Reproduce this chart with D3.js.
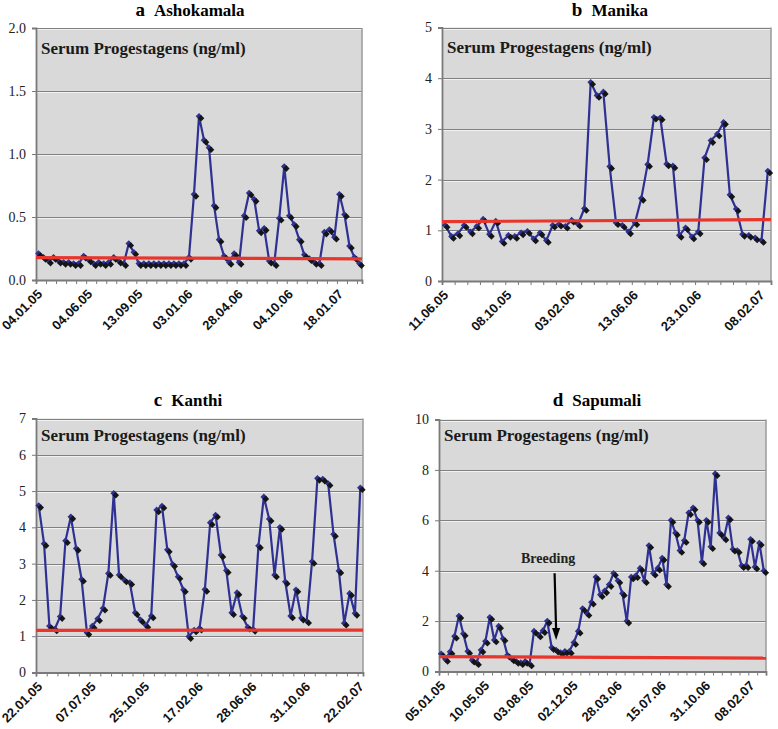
<!DOCTYPE html>
<html>
<head>
<meta charset="utf-8">
<script src="https://cdn.jsdelivr.net/npm/d3@7"></script>
<style>
  body { margin: 0; background: #ffffff; }
  svg { display: block; }
</style>
</head>
<body>
<svg id="chart" width="778" height="729"></svg>
<script>
// ---------------- DATA ----------------
// a  Ashokamala
const ashokamalaValues = [
  0.21, 0.18, 0.15, 0.18, 0.15, 0.14, 0.14, 0.13, 0.13, 0.19,
  0.16, 0.13, 0.14, 0.13, 0.14, 0.18, 0.15, 0.13, 0.29, 0.22,
  0.13, 0.13, 0.13, 0.13, 0.13, 0.13, 0.13, 0.13, 0.13, 0.13,
  0.18, 0.68, 1.30, 1.11, 1.05, 0.59, 0.32, 0.19, 0.14, 0.21,
  0.14, 0.51, 0.69, 0.64, 0.39, 0.41, 0.15, 0.13, 0.49, 0.90,
  0.51, 0.44, 0.32, 0.20, 0.17, 0.14, 0.13, 0.38, 0.40, 0.34,
  0.68, 0.52, 0.27, 0.18, 0.13
];
const ashokamalaDates = ["04.01.05", "04.06.05", "13.09.05", "03.01.06", "28.04.06", "04.10.06", "18.01.07"];
const ashokamalaBaseline = [0.177, 0.168];

// b  Manika
const manikaValues = [
  1.10, 0.88, 0.93, 1.10, 0.97, 1.08, 1.22, 0.92, 1.18, 0.78,
  0.90, 0.88, 0.95, 0.98, 0.83, 0.95, 0.80, 1.10, 1.12, 1.08,
  1.20, 1.12, 1.43, 3.92, 3.66, 3.73, 2.26, 1.15, 1.10, 0.97,
  1.15, 1.63, 2.30, 3.23, 3.22, 2.31, 2.27, 0.90, 1.05, 0.87,
  0.97, 2.43, 2.77, 2.90, 3.13, 1.70, 1.42, 0.92, 0.90, 0.85,
  0.80, 2.17
];
const manikaDates = ["11.06.05", "08.10.05", "03.02.06", "13.06.06", "23.10.06", "08.02.07"];
const manikaBaseline = [1.17, 1.21];

// c  Kanthi
const kanthiValues = [
  4.60, 3.55, 1.28, 1.20, 1.54, 3.63, 4.29, 3.42, 2.57, 1.10,
  1.28, 1.48, 1.77, 2.73, 4.94, 2.69, 2.55, 2.48, 1.65, 1.45,
  1.30, 1.56, 4.48, 4.59, 3.38, 2.98, 2.64, 2.28, 0.99, 1.17,
  1.22, 2.29, 4.13, 4.34, 3.24, 2.81, 1.65, 2.20, 1.55, 1.25,
  1.19, 3.49, 4.84, 4.23, 2.69, 4.00, 2.50, 1.56, 2.28, 1.50,
  1.42, 3.06, 5.35, 5.33, 5.21, 3.81, 2.80, 1.36, 2.18, 1.63,
  5.09
];
const kanthiDates = ["22.01.05", "07.07.05", "25.10.05", "17.02.06", "28.06.06", "31.10.06", "22.02.07"];
const kanthiBaseline = [1.16, 1.17];

// d  Sapumali
const sapumaliValues = [
  0.70, 0.48, 0.78, 1.40, 2.20, 1.50, 0.80, 0.45, 0.35, 0.85,
  1.20, 2.15, 1.25, 1.80, 1.30, 0.65, 0.50, 0.40, 0.35, 0.40,
  0.30, 1.60, 1.45, 1.62, 2.00, 0.95, 0.85, 0.75, 0.80, 0.80,
  1.15, 1.60, 2.50, 2.30, 2.75, 3.75, 3.05, 3.20, 3.45, 3.90,
  3.60, 3.10, 2.00, 3.75, 3.80, 4.10, 3.60, 5.00, 3.90, 4.10,
  4.50, 3.45, 6.00, 5.50, 4.80, 5.20, 6.30, 6.50, 6.00, 4.35,
  6.00, 4.95, 7.85, 5.50, 5.30, 6.10, 4.85, 4.80, 4.20, 4.20,
  5.25, 4.15, 5.10, 4.00
];
const sapumaliDates = ["05.01.05", "10.05.05", "03.08.05", "02.12.05", "28.03.06", "15.07.06", "31.10.06", "08.02.07"];
const sapumaliBaseline = [0.59, 0.53];
// breeding annotation: sample index, arrow tip / tail value, label value
const breedingNote = { text: "Breeding", index: 26, tip: 1.25, tail: 3.9, label: 4.3 };

const panelLetters = ["a", "b", "c", "d"];
const panelNames = ["Ashokamala", "Manika", "Kanthi", "Sapumali"];
const yMaxima = [2, 5, 7, 10];
const ySteps = [0.5, 1, 1, 2];
const yFormats = [".1f", "d", "d", "d"];
const unitText = "Serum Progestagens (ng/ml)";
const labelEvery = 10;   // date label every 10 samples
const tickEvery = 2;     // tick mark every 2 samples

// ---------------- LAYOUT ----------------
const layouts = [
  { l: 36,  r: 362, t: 28,    b: 280,   titleX: 190, titleY: 16,  noteY: 54 },
  { l: 442, r: 771, t: 27.5,  b: 281,   titleX: 610, titleY: 16,  noteY: 53 },
  { l: 36,  r: 363, t: 418.5, b: 672.5, titleX: 188, titleY: 406, noteY: 441 },
  { l: 439, r: 766, t: 419.5, b: 671.5, titleX: 597, titleY: 406, noteY: 441 }
];

const SERIF = "'Liberation Serif', 'Times New Roman', serif";
const SANS = "'Liberation Sans', Arial, sans-serif";
const BLUE = "#2e3192";
const RED = "#e8362c";

const svg = d3.select("#chart");

const panels = [
  { values: ashokamalaValues, dates: ashokamalaDates, baseline: ashokamalaBaseline },
  { values: manikaValues, dates: manikaDates, baseline: manikaBaseline },
  { values: kanthiValues, dates: kanthiDates, baseline: kanthiBaseline },
  { values: sapumaliValues, dates: sapumaliDates, baseline: sapumaliBaseline }
];

panels.forEach((p, k) => {
  const lay = layouts[k];
  const N = p.values.length;
  const g = svg.append("g");

  const x = d3.scaleBand().domain(d3.range(N)).range([lay.l, lay.r]);
  const xi = d3.scaleLinear().domain([0, N]).range([lay.l, lay.r]);
  const y = d3.scaleLinear().domain([0, yMaxima[k]]).range([lay.b, lay.t]);
  const yTicks = d3.range(0, yMaxima[k] + ySteps[k] / 2, ySteps[k]);
  const cx = i => x(i) + x.bandwidth() / 2;

  // plot background
  g.append("rect")
    .attr("x", lay.l).attr("y", lay.t)
    .attr("width", lay.r - lay.l).attr("height", lay.b - lay.t)
    .attr("fill", "#d9d9d9");

  // gridline highlights (light line under each gridline)
  g.append("g").selectAll("line").data(yTicks.slice(1)).join("line")
    .attr("x1", lay.l).attr("x2", lay.r)
    .attr("y1", d => Math.round(y(d)) + 1.5).attr("y2", d => Math.round(y(d)) + 1.5)
    .attr("stroke", "#f2f2f2").attr("stroke-width", 1);

  // gridlines
  g.append("g")
    .attr("transform", `translate(${lay.l},0)`)
    .call(d3.axisLeft(y).tickValues(yTicks.slice(1)).tickSize(-(lay.r - lay.l)).tickFormat(""))
    .call(a => a.select(".domain").remove())
    .call(a => a.selectAll("line").attr("stroke", "#808080").attr("stroke-width", 1)
      .attr("shape-rendering", "crispEdges"));

  // right border
  g.append("line")
    .attr("x1", lay.r).attr("x2", lay.r).attr("y1", lay.t).attr("y2", lay.b)
    .attr("stroke", "#9a9a9a").attr("stroke-width", 1.5);

  // y axis
  g.append("g")
    .attr("transform", `translate(${lay.l},0)`)
    .call(d3.axisLeft(y).tickValues(yTicks).tickSize(4).tickPadding(6)
      .tickFormat(d3.format(yFormats[k])))
    .call(a => a.select(".domain").attr("stroke", "#7a7a7a").attr("stroke-width", 1.8))
    .call(a => a.selectAll(".tick line").attr("stroke", "#7a7a7a"))
    .call(a => a.selectAll("text").attr("font-family", SERIF).attr("font-size", 14)
      .attr("fill", "#222"));

  // x axis (tick marks only)
  g.append("g")
    .attr("transform", `translate(0,${lay.b})`)
    .call(d3.axisBottom(xi).tickValues(d3.range(0, N + 1, tickEvery)).tickSize(4).tickFormat(""))
    .call(a => a.select(".domain").attr("stroke", "#7a7a7a").attr("stroke-width", 1.8))
    .call(a => a.selectAll(".tick line").attr("stroke", "#7a7a7a"));

  // x date labels (rotated)
  g.append("g").selectAll("text").data(p.dates).join("text")
    .attr("transform", (d, i) => `translate(${xi(i * labelEvery) + 7},${lay.b + 15}) rotate(-45)`)
    .attr("text-anchor", "end")
    .attr("font-family", SANS).attr("font-weight", "bold").attr("font-size", 13)
    .attr("fill", "#111")
    .text(d => d);

  // series line
  const line = d3.line().x((d, i) => cx(i)).y(d => y(d));
  g.append("path").datum(p.values)
    .attr("d", line).attr("fill", "none")
    .attr("stroke", BLUE).attr("stroke-width", 2.2).attr("stroke-linejoin", "round");

  // markers: blue diamond with dark offset diamond
  const diamond = d3.symbol().type(d3.symbolSquare).size(22);
  g.append("g").selectAll("path").data(p.values).join("path")
    .attr("d", diamond)
    .attr("transform", (d, i) => `translate(${cx(i)},${y(d)}) rotate(45)`)
    .attr("fill", BLUE);
  g.append("g").selectAll("path").data(p.values).join("path")
    .attr("d", diamond)
    .attr("transform", (d, i) => `translate(${cx(i) + 2},${y(d) + 2}) rotate(45)`)
    .attr("fill", "#151515");

  // red reference line
  g.append("line")
    .attr("x1", lay.l).attr("x2", lay.r)
    .attr("y1", y(p.baseline[0])).attr("y2", y(p.baseline[1]))
    .attr("stroke", RED).attr("stroke-width", 3.2);

  // unit text inside plot
  g.append("text")
    .attr("x", lay.l + 5).attr("y", lay.noteY)
    .attr("font-family", SERIF).attr("font-weight", "bold").attr("font-size", 17)
    .attr("fill", "#1a1a1a")
    .text(unitText);

  // title
  const title = g.append("text")
    .attr("x", lay.titleX).attr("y", lay.titleY)
    .attr("text-anchor", "middle")
    .attr("font-family", SERIF).attr("font-weight", "bold").attr("fill", "#000");
  title.append("tspan").attr("font-size", 19).text(panelLetters[k]);
  title.append("tspan").attr("font-size", 17).attr("dx", 9).text(panelNames[k]);

  // breeding annotation (panel d)
  if (k === 3) {
    const ax = cx(breedingNote.index);
    const tipY = y(breedingNote.tip);
    const tailY = y(breedingNote.tail);
    g.append("line")
      .attr("x1", ax - 1.5).attr("y1", tailY)
      .attr("x2", ax).attr("y2", tipY - 10)
      .attr("stroke", "#000").attr("stroke-width", 2.2);
    g.append("path")
      .attr("d", `M${ax - 4},${tipY - 12} L${ax + 4},${tipY - 12} L${ax},${tipY} Z`)
      .attr("fill", "#000");
    g.append("text")
      .attr("x", ax - 8).attr("y", y(breedingNote.label))
      .attr("text-anchor", "middle")
      .attr("font-family", SERIF).attr("font-weight", "bold").attr("font-size", 14)
      .attr("fill", "#222")
      .text(breedingNote.text);
  }
});
</script>
</body>
</html>
